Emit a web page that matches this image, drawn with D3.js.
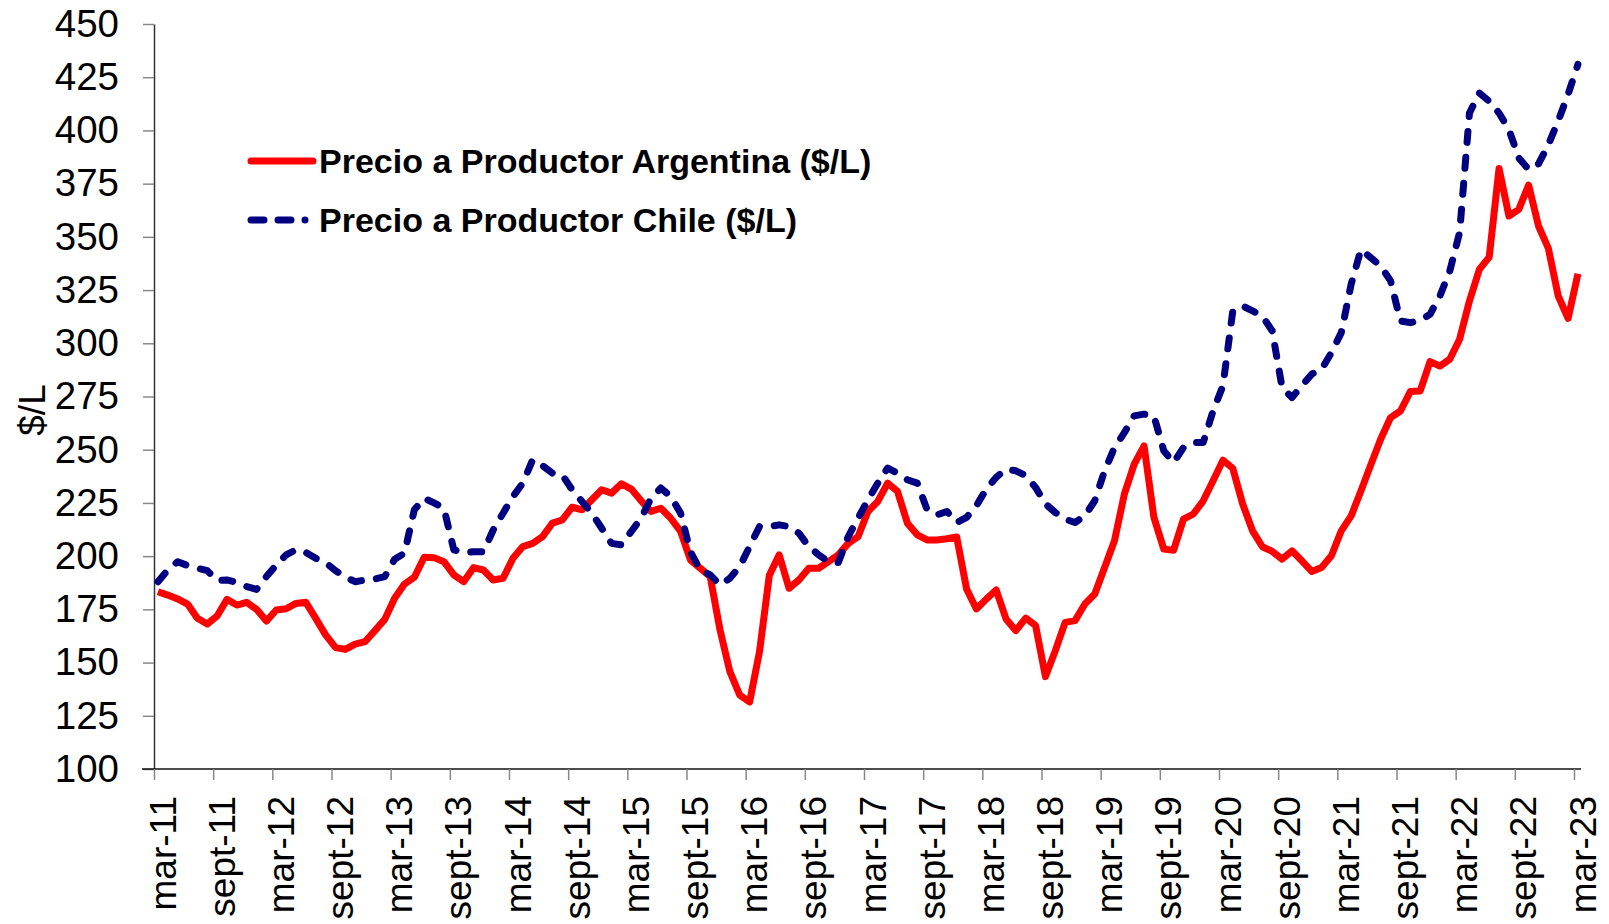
<!DOCTYPE html>
<html>
<head>
<meta charset="utf-8">
<script src="https://cdn.jsdelivr.net/npm/d3@7"></script>
<style>
  body { margin: 0; background: #fff; }
  svg { display: block; font-family: "Liberation Sans", Arial, sans-serif; }
</style>
</head>
<body>
<div class="line-chart-container"></div>
<script>
// monthly producer prices, mar-11 .. mar-23 (145 months)
const argentina = [
  183.3, 181.7, 179.9, 177.5, 170.8, 168.1, 171.9, 179.7, 177.0, 178.3, 175.0, 169.5,
  174.7, 175.3, 177.8, 178.3, 170.8, 163.0, 157.1, 156.2, 158.7, 159.8, 165.0, 170.3,
  180.2, 186.9, 190.1, 199.5, 199.3, 197.4, 191.2, 188.0, 194.6, 193.5, 188.8, 189.6,
  199.0, 204.5, 206.0, 209.2, 215.5, 217.0, 223.0, 221.8, 226.5, 231.2, 229.6, 234.0,
  231.5, 226.0, 221.0, 222.5, 217.8, 211.6, 198.2, 194.3, 190.4, 165.3, 145.7, 134.7,
  131.5, 155.0, 191.0, 200.6, 184.9, 188.8, 194.3, 194.3, 197.4, 200.6, 206.0, 209.2,
  221.0, 225.7, 234.3, 230.4, 215.5, 210.0, 207.6, 207.6, 208.2, 209.0, 184.6, 175.2,
  179.8, 184.1, 170.5, 165.0, 170.9, 167.4, 143.4, 155.6, 168.9, 169.7, 177.5, 182.2,
  194.7, 207.2, 229.1, 243.2, 251.8, 218.2, 203.3, 202.8, 217.4, 219.8, 226.0, 235.4,
  245.1, 241.2, 224.5, 211.9, 204.4, 202.2, 198.6, 202.5, 197.8, 192.8, 194.7, 200.2,
  211.9, 218.9, 230.7, 243.0, 255.0, 265.1, 268.2, 277.3, 277.6, 291.4, 289.3, 292.5,
  301.9, 319.9, 334.7, 340.5, 382.1, 359.8, 362.9, 374.3, 355.1, 344.6, 322.2, 311.7,
  332.7
];

const chile = [
  188.0, 193.5, 197.4, 195.6, 194.3, 193.2, 188.5, 188.8, 187.6, 185.7, 184.4, 190.4,
  195.9, 200.6, 203.0, 201.7, 199.0, 197.0, 193.2, 190.1, 188.0, 188.8, 189.3, 190.4,
  198.5, 201.4, 221.8, 227.2, 225.0, 222.5, 203.0, 201.7, 202.1, 202.1, 212.3, 220.2,
  228.0, 234.3, 245.3, 242.5, 239.0, 238.2, 231.2, 225.7, 220.2, 213.1, 206.0, 205.3,
  211.6, 217.8, 227.2, 232.0, 228.0, 220.2, 202.0, 193.5, 191.2, 186.5, 189.6, 195.1,
  204.5, 213.9, 213.9, 214.7, 213.9, 210.8, 204.5, 200.6, 197.4, 197.0, 209.2, 217.8,
  226.5, 234.3, 241.4, 239.0, 235.9, 234.3, 221.8, 219.4, 221.0, 215.8, 218.2, 223.7,
  231.5, 237.0, 240.9, 240.1, 237.8, 232.3, 224.5, 220.5, 217.4, 215.8, 219.0, 226.0,
  240.1, 251.0, 258.0, 265.9, 266.7, 265.9, 249.5, 244.0, 251.0, 253.4, 253.4, 268.2,
  280.0, 315.2, 317.5, 315.2, 312.8, 305.8, 279.2, 274.5, 280.0, 285.5, 287.8, 295.6,
  305.0, 327.7, 344.1, 340.2, 336.3, 329.3, 310.5, 309.7, 310.8, 313.6, 322.2, 333.9,
  352.0, 408.2, 417.6, 413.7, 408.2, 400.4, 387.1, 381.6, 384.3, 393.3, 404.5, 417.0,
  431.0
];

const tickLabels = [
  "mar-11", "sept-11", "mar-12", "sept-12", "mar-13", "sept-13", "mar-14", "sept-14",
  "mar-15", "sept-15", "mar-16", "sept-16", "mar-17", "sept-17", "mar-18", "sept-18",
  "mar-19", "sept-19", "mar-20", "sept-20", "mar-21", "sept-21", "mar-22", "sept-22",
  "mar-23"
];

const yTicks = [100, 125, 150, 175, 200, 225, 250, 275, 300, 325, 350, 375, 400, 425, 450];

const seriesNames = ["Precio a Productor Argentina ($/L)", "Precio a Productor Chile ($/L)"];

const width = 1609;
const height = 924;
const plotLeft = 154, plotRight = 1574, plotTop = 24, plotBottom = 769;
// data points sit a little after each month tick
const pointShift = 0.4;

let svg = d3.select(".line-chart-container").append("svg")
    .attr("width", width)
    .attr("height", height);

svg.append("rect").attr("width", width).attr("height", height).attr("fill", "#fff");

let xScale = d3.scaleLinear()
    .domain([0, argentina.length - 1])
    .range([plotLeft, plotRight]);

let yScale = d3.scaleLinear()
    .domain([100, 450])
    .range([plotBottom, plotTop]);

// y axis
let yAxis = d3.axisLeft(yScale)
    .tickValues(yTicks)
    .tickSize(11)
    .tickSizeOuter(0)
    .tickPadding(24);

let gy = svg.append("g")
    .attr("transform", "translate(" + plotLeft + ",0)")
    .call(yAxis);
gy.select(".domain").attr("stroke", "#333").attr("stroke-width", 1.5);
gy.selectAll(".tick line").attr("stroke", "#888").attr("stroke-width", 1.5);
gy.selectAll(".tick text")
    .attr("font-size", 38.5)
    .attr("fill", "#000")
    .attr("font-family", "'Liberation Sans', Arial, sans-serif");

// x axis, one tick every six months
let xAxis = d3.axisBottom(xScale)
    .tickValues(d3.range(0, argentina.length, 6))
    .tickFormat((d, i) => tickLabels[i])
    .tickSize(11)
    .tickSizeOuter(0);

let gx = svg.append("g")
    .attr("transform", "translate(0," + plotBottom + ")")
    .call(xAxis);
gx.select(".domain").attr("stroke", "#111").attr("stroke-width", 1.5)
    .attr("d", "M" + (plotLeft - 12) + ",0H" + (plotRight + 7));
gx.selectAll(".tick line").attr("stroke", "#888").attr("stroke-width", 1.5);
gx.selectAll(".tick text")
    .attr("transform", "rotate(-90)")
    .attr("text-anchor", "end")
    .attr("x", -27)
    .attr("y", 21)
    .attr("dy", 0)
    .attr("font-size", 37)
    .attr("fill", "#000")
    .attr("font-family", "'Liberation Sans', Arial, sans-serif");

// y axis title
svg.append("text")
    .attr("transform", "translate(45,410) rotate(-90)")
    .attr("text-anchor", "middle")
    .attr("font-size", 37)
    .attr("fill", "#000")
    .text("$/L");

let line = d3.line()
    .x((d, i) => xScale(i + pointShift))
    .y(d => yScale(d));

svg.append("path")
    .datum(argentina)
    .attr("fill", "none")
    .attr("stroke", "#ff0000")
    .attr("stroke-width", 7)
    .attr("stroke-linejoin", "round")
    .attr("d", line);

svg.append("path")
    .datum(chile)
    .attr("fill", "none")
    .attr("stroke", "#000080")
    .attr("stroke-width", 7)
    .attr("stroke-linejoin", "round")
    .attr("stroke-linecap", "round")
    .attr("stroke-dasharray", "11,15")
    .attr("d", line);

// legend
let legend = svg.append("g");
const legendRows = [
    { name: seriesNames[0], color: "#ff0000", dash: null, y: 161 },
    { name: seriesNames[1], color: "#000080", dash: "13,14,13,14,0", y: 220 }
];
legendRows.forEach(row => {
    legend.append("line")
        .attr("x1", 251).attr("x2", 313)
        .attr("y1", row.y).attr("y2", row.y)
        .attr("stroke", row.color)
        .attr("stroke-width", 7)
        .attr("stroke-linecap", "round")
        .attr("stroke-dasharray", row.dash);
    legend.append("text")
        .attr("x", 319)
        .attr("y", row.y + 12)
        .attr("font-size", 34)
        .attr("font-weight", "bold")
        .attr("fill", "#000")
        .text(row.name);
});
</script>
</body>
</html>
